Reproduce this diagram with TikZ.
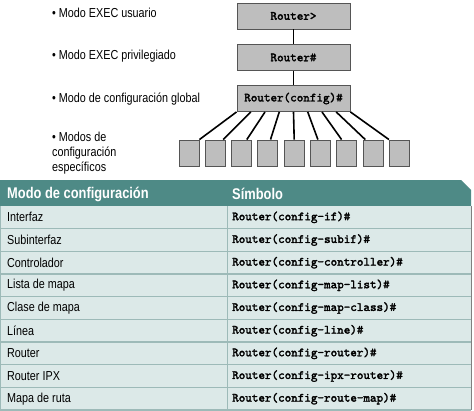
\documentclass[tikz,border=0pt]{standalone}
\usepackage{fontspec}
\setmainfont{Liberation Sans}[FakeStretch=0.83]
\newfontfamily\codefont{lmmono10-regular.otf}[FakeBold=2.2]
\usetikzlibrary{calc}

\definecolor{boxgray}{HTML}{BEBEBE}
\definecolor{boxline}{HTML}{555555}
\definecolor{tealhead}{HTML}{4E8A86}
\definecolor{rowbg}{HTML}{DCE9E8}
\definecolor{rowline}{HTML}{9DBAB8}

\begin{document}
\begin{tikzpicture}[x=1pt,y=-1pt,
  mode/.style={draw=boxline,fill=boxgray,line width=0.9pt,minimum width=113pt,minimum height=26pt,
    font=\fontsize{12.5}{14}\codefont},
  sub/.style={draw=boxline,fill=boxgray,line width=0.9pt,minimum width=20pt,minimum height=26pt},
  lbl/.style={anchor=west,inner sep=0pt,font=\fontsize{13}{15}\selectfont,align=left},
  cell/.style={anchor=west,inner sep=0pt,font=\fontsize{13}{15}\selectfont},
  symb/.style={anchor=west,inner sep=0pt,font=\fontsize{12.5}{14}\codefont}]
  \useasboundingbox (0,0) rectangle (474,410);
  % mode hierarchy
  \node[mode] (usr) at (293.5,16) {Router>};
  \node[mode] (priv) at (293.5,57.5) {Router\#};
  \node[mode] (cfg) at (293.5,98.5) {Router(config)\#};
  \draw[line width=1.6pt] (usr)--(priv);
  \draw[line width=1.6pt] (priv)--(cfg);
  \foreach \i in {1,...,9}
    \node[sub] (m\i) at ({189+26.3*(\i-1)},153) {};
  \foreach \i in {1,...,9}{
    \coordinate (s\i) at ($(cfg.south west)!{(\i-1)/8}!(cfg.south east)$);
    \coordinate (e\i) at ($(m1.north east)!{(\i-1)/8}!(m9.north west)$);
    \draw[line width=1.6pt] (s\i)--(e\i);
  }
  \node[lbl] (lusr) at (52,13) {• Modo EXEC usuario};
  \node[lbl] (lpriv) at (52,56) {• Modo EXEC privilegiado};
  \node[lbl] (lcfg) at (52,99) {• Modo de configuración global};
  \node[lbl,anchor=north west] (lsub) at (52,132) {• Modos de\\configuración\\específicos};
  % table
  \fill[tealhead] (0,180)--(461,180)--(471,190)--(471,206)--(0,206)--cycle;
  \node[cell,text=white,font=\fontsize{15.5}{17}\bfseries] (hmode) at (7,194) {Modo de configuración};
  \node[cell,text=white,font=\fontsize{15.5}{17}\bfseries] (hsym) at (232,194) {Símbolo};
  \fill[rowbg] (0,206) rectangle (471,410);
  \foreach \md/\sy [count=\r] in {Interfaz/if,Subinterfaz/subif,Controlador/controller,
      Lista de mapa/map-list,Clase de mapa/map-class,Línea/line,Router/router,
      Router IPX/ipx-router,Mapa de ruta/route-map}{
    \draw[rowline,line width=1.2pt] (0,{206+22.67*\r})--(471,{206+22.67*\r});
    \node[cell] (c\r) at (7,{206+22.67*(\r-0.5)}) {\md};
    \node[symb] (y\r) at (232,{206+22.67*(\r-0.5)}) {Router(config-\sy)\#};
  }
  \draw[rowline,line width=1pt] (227,206)--(227,410);
  \draw[rowline,line width=1.4pt] (0.7,206)--(0.7,410);
  \draw[gray,line width=0.8pt] (471,206)--(471,410);
\end{tikzpicture}
\end{document}
